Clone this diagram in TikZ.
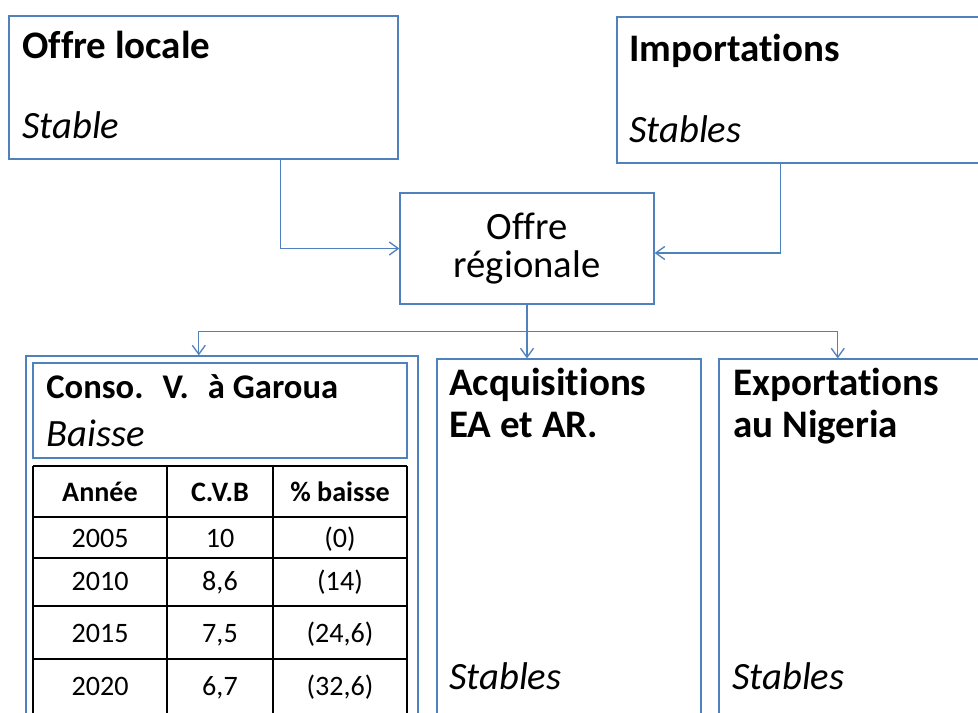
\documentclass[tikz,border=0pt]{standalone}
\usepackage{fontspec}
\setmainfont{Carlito}[Ligatures=NoCommon]
\usetikzlibrary{arrows.meta,calc}
\definecolor{edge}{HTML}{4F81BD}
\definecolor{ink}{HTML}{000000}
\tikzset{
  >={Straight Barb[length=1.8mm,width=2.6mm]},
  box/.style={draw=edge, line width=0.75pt, inner sep=0pt},
  arr/.style={->, draw=edge, line width=0.75pt},
  tabline/.style={draw=ink, line width=1.1pt},
  ttl/.style={font=\bfseries\fontsize{22.2}{26}\selectfont, text=ink, anchor=base west, inner sep=0pt},
  note/.style={font=\itshape\fontsize{22}{26}\selectfont, text=ink, anchor=base west, inner sep=0pt},
  cell/.style={font=\fontsize{16}{19}\selectfont, text=ink, anchor=base, inner sep=0pt},
  hcell/.style={cell, font=\bfseries\fontsize{16}{19}\selectfont},
}

\begin{document}
\begin{tikzpicture}[x=0.02cm, y=-0.02cm]
  \useasboundingbox (0,0) rectangle (978,713);
  \clip (0,0) rectangle (978,713);

  % ---------------- sources ----------------
  \node[box, minimum width=7.78cm, minimum height=2.86cm] (locale) at (203.5,87.5) {};
  \node[ttl] (localet) at (22,59) {Offre locale};
  \node[note] (localen) at (22,139) {Stable};
  \node[box, minimum width=7.66cm, minimum height=2.92cm] (import) at (808.5,90) {};
  \node[ttl] (importt) at (629,62) {Importations};
  \node[note] (importn) at (629,143) {Stables};

  \node[box, minimum width=5.08cm, minimum height=2.22cm, align=center,
    font=\fontsize{22}{22.1}\selectfont, text=ink] (regionale) at (527,248.5) {Offre\\ régionale};
  \draw[arr] ($(locale.south west)!0.697!(locale.south east)$) |- (regionale.west);
  \draw[arr] ($(import.south west)!0.428!(import.south east)$) |- ([yshift=-0.09cm]regionale.east);

  % ---------------- uses ----------------
  \node[box, minimum width=7.84cm, minimum height=8.08cm] (conso) at (222,558) {};
  \node[box, minimum width=7.48cm, minimum height=1.9cm] (consot) at (220,410.5) {};
  \node[ttl, font=\bfseries\fontsize{19.7}{23}\selectfont] (consott) at (46,398) {Conso.\hspace{0.55em}V.\hspace{0.55em}à Garoua};
  \node[note] (conson) at (46,446) {Baisse};
  \node[box, minimum width=5.28cm, minimum height=8.02cm] (acquis) at (569,559.5) {};
  \node[ttl] (acquist) at (449,395) {Acquisitions};
  \node[ttl] (acquist2) at (449,437) {EA et AR.};
  \node[note] (acquisn) at (449,689) {Stables};
  \node[box, minimum width=5.62cm, minimum height=8.02cm] (export) at (859.5,559.5) {};
  \node[ttl] (exportt) at (733,395) {Exportations};
  \node[ttl] (exportt2) at (733,437) {au Nigeria};
  \node[note] (exportn) at (732,689) {Stables};

  \coordinate (bus) at ($(regionale.south)+(0,27)$);
  \draw[arr] (regionale.south) -- (regionale.south |- acquis.north);
  \draw[arr] (bus) -| ($(conso.north west)!0.441!(conso.north east)$);
  \draw[arr] (bus) -| ($(export.north west)!0.423!(export.north east)$);

  % ---------------- table ----------------
  \foreach \yy in {466,517,558,606,659}
    \draw[tabline] (33,\yy) -- (407,\yy);
  \foreach \xx in {33,167,273,407}
    \draw[tabline] (\xx,466) -- (\xx,760);
  \node[hcell] (h1) at (100,501) {Année};
  \node[hcell] (h2) at (220,501) {C.V.B};
  \node[hcell] (h3) at (340,501) {\% baisse};
  \foreach \an/\cv/\pc/\yy [count=\r] in {2005/10/{(0)}/547, 2010/{8,6}/{(14)}/590,
      2015/{7,5}/{(24,6)}/642, 2020/{6,7}/{(32,6)}/695} {
    \node[cell] (an-\r) at (100,\yy) {\an};
    \node[cell] (cv-\r) at (220,\yy) {\cv};
    \node[cell] (pc-\r) at (340,\yy) {\pc};
  }
\end{tikzpicture}
\end{document}
